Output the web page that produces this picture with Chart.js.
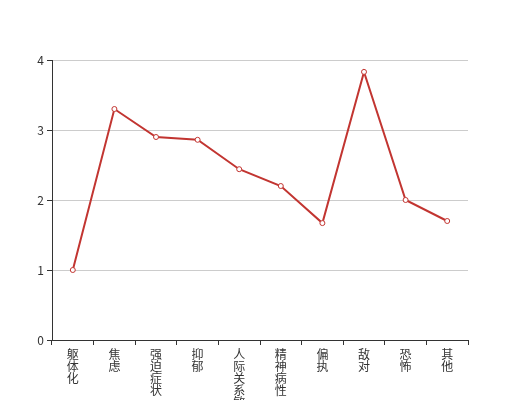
<!DOCTYPE html>
<html>
<head>
<meta charset="utf-8">
<script src="https://cdn.jsdelivr.net/npm/chart.js@4/dist/chart.umd.min.js"></script>
<style>
html,body{margin:0;padding:0;background:#fff;}
#wrap{width:520px;height:400px;position:relative;}
</style>
</head>
<body>
<div id="wrap"><canvas id="c" width="520" height="400"></canvas></div>
<script>
const categories = ["躯体化","焦虑","强迫症状","抑郁","人际关系敏感","精神病性","偏执","敌对","恐怖","其他"];
const values = [1.00, 3.30, 2.90, 2.86, 2.44, 2.20, 1.67, 3.83, 2.00, 1.70];
const yTicks = [0, 1, 2, 3, 4];

const FONT = '"Noto Sans CJK SC", "Noto Sans", sans-serif';
const labels = categories.map(s => Array.from(s));

new Chart(document.getElementById('c'), {
  type: 'line',
  data: {
    labels: labels,
    datasets: [{
      data: values,
      borderColor: '#c23531',
      borderWidth: 2,
      backgroundColor: '#ffffff',
      pointBackgroundColor: '#ffffff',
      pointBorderColor: '#c23531',
      pointBorderWidth: 1,
      pointRadius: 2.5,
      tension: 0,
      fill: false
    }]
  },
  options: {
    responsive: false,
    animation: false,
    devicePixelRatio: 1,
    layout: { padding: { top: 60, right: 52, left: 0, bottom: 0 } },
    plugins: { legend: { display: false }, tooltip: { enabled: false } },
    scales: {
      x: {
        type: 'category',
        offset: true,
        afterFit: s => { s.height = 60; },
        grid: { display: true, offset: true, drawOnChartArea: false, drawTicks: true, tickLength: 5, color: '#333', tickColor: '#333' },
        border: { display: true, color: '#333', width: 1 },
        ticks: { color: '#333', padding: 3, maxRotation: 0, autoSkip: false, font: { family: FONT, size: 12, lineHeight: 1 } }
      },
      y: {
        min: yTicks[0],
        max: yTicks[yTicks.length - 1],
        afterFit: s => { s.width = 52; },
        afterBuildTicks: s => { s.ticks = yTicks.map(v => ({ value: v })); },
        grid: { color: '#cccccc', tickColor: '#333', tickLength: 5, lineWidth: 1 },
        border: { display: true, color: '#333', width: 1 },
        ticks: { color: '#333', padding: 3, font: { family: FONT, size: 12 } }
      }
    }
  }
});
</script>
</body>
</html>
